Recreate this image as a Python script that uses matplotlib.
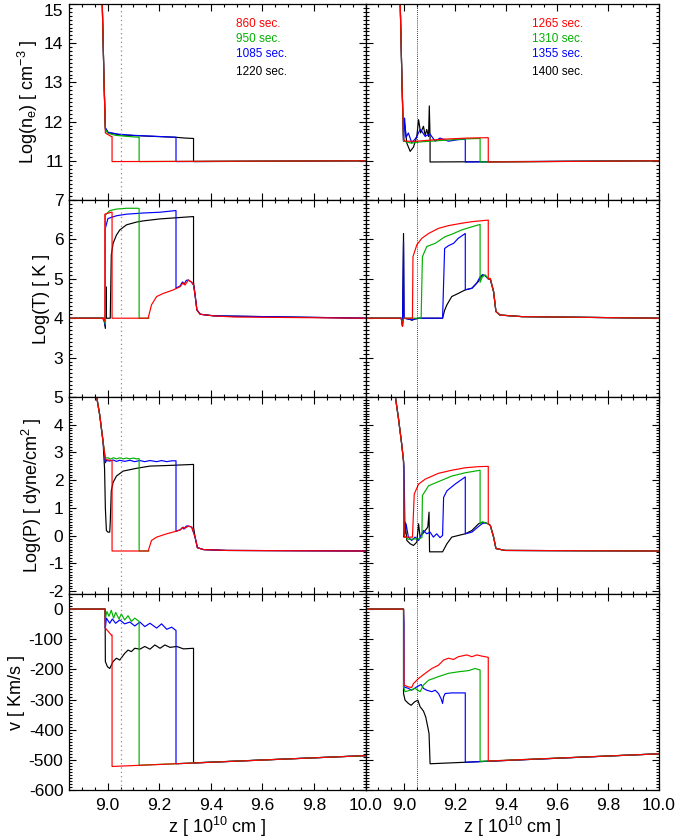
import matplotlib
matplotlib.use("Agg")
import matplotlib.pyplot as plt
from matplotlib.ticker import MultipleLocator

plt.rcParams['font.family'] = ['Liberation Sans', 'DejaVu Sans']
plt.rcParams['axes.unicode_minus'] = False

# ---- data: (z [1e10 cm], value) ----
# Log(n_e), left column
ne_860 = [(8.85, 18.0), (8.978, 15.3), (8.986, 13.0), (8.991, 11.71), (9.014, 11.62), (9.017, 11.62),
          (9.017, 10.98), (10.0, 11.0)]
ne_950 = [(8.85, 18.0), (8.978, 15.3), (8.986, 13.0), (8.991, 11.80), (9.001, 11.70), (9.030, 11.65),
          (9.080, 11.62), (9.122, 11.60), (9.122, 10.98), (10.0, 11.0)]
ne_1085 = [(8.85, 18.0), (8.978, 15.3), (8.986, 13.0), (8.991, 11.85), (9.001, 11.73), (9.040, 11.68),
           (9.100, 11.65), (9.200, 11.62), (9.265, 11.60), (9.265, 10.98), (10.0, 11.0)]
ne_1220 = [(8.85, 18.0), (8.978, 15.3), (8.986, 13.0), (8.991, 11.82), (9.001, 11.72), (9.050, 11.66),
           (9.150, 11.63), (9.265, 11.60), (9.300, 11.58), (9.333, 11.57), (9.333, 10.98), (10.0, 11.0)]
# Log(n_e), right column
ne_1265 = [(8.85, 18.0), (8.985, 15.3), (8.993, 13.0), (8.999, 11.55), (9.005, 11.50), (9.050, 11.50),
           (9.150, 11.55), (9.250, 11.58), (9.331, 11.59), (9.331, 10.97), (10.0, 11.0)]
ne_1310 = [(8.85, 18.0), (8.985, 15.3), (8.993, 13.0), (8.999, 11.50), (9.030, 11.45), (9.060, 11.48),
           (9.150, 11.52), (9.250, 11.56), (9.299, 11.57), (9.299, 10.97), (10.0, 11.0)]
ne_1355 = [(8.85, 18.0), (8.985, 15.3), (8.993, 13.0), (8.999, 11.50), (9.003, 12.09), (9.009, 11.60),
           (9.018, 11.71), (9.031, 11.46), (9.044, 11.55), (9.051, 11.62), (9.064, 11.80), (9.071, 11.75),
           (9.084, 11.62), (9.090, 11.65), (9.103, 11.68), (9.123, 11.50), (9.142, 11.58), (9.175, 11.50),
           (9.214, 11.54), (9.241, 11.55), (9.241, 10.97), (10.0, 11.0)]
ne_1400 = [(8.85, 18.0), (8.985, 15.3), (8.993, 13.0), (8.999, 11.50), (9.001, 12.05), (9.012, 11.45),
           (9.025, 11.24), (9.038, 11.35), (9.051, 11.62), (9.058, 12.05), (9.066, 11.71), (9.077, 11.88),
           (9.084, 11.65), (9.090, 11.80), (9.097, 11.62), (9.100, 12.40), (9.103, 11.60), (9.103, 10.97),
           (10.0, 11.0)]

# Log(T), left column
t_860 = [(8.85, 4.0), (8.980, 4.0), (8.986, 3.92), (8.989, 4.0), (8.989, 6.64), (9.014, 6.69), (9.017, 6.69),
         (9.017, 4.0), (9.157, 4.0), (9.170, 4.34), (9.190, 4.55), (9.216, 4.63), (9.255, 4.72), (9.281, 4.80),
         (9.294, 4.91), (9.300, 4.84), (9.313, 4.97), (9.326, 4.91), (9.333, 4.84), (9.339, 4.59),
         (9.346, 4.21), (9.359, 4.10), (9.411, 4.06), (9.489, 4.03), (10.0, 4.0)]
t_950 = [(8.85, 4.0), (8.985, 4.0), (8.991, 3.85), (8.991, 6.62), (9.008, 6.73), (9.034, 6.77), (9.073, 6.79),
         (9.118, 6.79), (9.122, 6.78), (9.122, 4.0), (9.160, 4.0)]
t_1085 = [(8.85, 4.0), (8.985, 4.0), (8.991, 3.80), (8.991, 6.28), (9.001, 6.53), (9.034, 6.60), (9.073, 6.64),
          (9.138, 6.67), (9.203, 6.69), (9.261, 6.73), (9.265, 6.73), (9.265, 4.76), (9.281, 4.82),
          (9.290, 4.92), (9.296, 4.86), (9.305, 4.96), (9.313, 4.97), (9.326, 4.91), (9.333, 4.84),
          (9.339, 4.59), (9.346, 4.21), (9.359, 4.10), (9.411, 4.06), (10.0, 4.0)]
t_1220 = [(8.85, 4.0), (8.985, 4.0), (8.991, 3.74), (8.993, 4.8), (8.995, 4.0), (9.010, 4.0), (9.014, 5.6),
          (9.021, 5.9), (9.034, 6.11), (9.047, 6.24), (9.073, 6.37), (9.112, 6.44), (9.138, 6.47),
          (9.203, 6.52), (9.268, 6.55), (9.333, 6.58), (9.333, 4.91), (9.339, 4.59), (9.346, 4.21),
          (9.359, 4.10), (9.411, 4.06), (10.0, 4.0)]
# Log(T), right column
t_1265 = [(8.85, 4.0), (8.990, 4.0), (8.995, 3.79), (8.999, 4.0), (9.034, 4.0), (9.036, 5.56), (9.051, 5.86),
          (9.071, 6.03), (9.097, 6.15), (9.136, 6.28), (9.175, 6.35), (9.227, 6.41), (9.267, 6.45),
          (9.331, 6.49), (9.331, 5.0), (9.339, 5.01), (9.352, 4.67), (9.361, 4.17), (9.377, 4.08),
          (9.463, 4.04), (10.0, 4.0)]
t_1310 = [(8.85, 4.0), (8.990, 4.0), (8.995, 3.85), (8.999, 4.0), (9.068, 4.0), (9.073, 5.56), (9.090, 5.82),
          (9.123, 5.90), (9.162, 6.07), (9.188, 6.13), (9.227, 6.24), (9.267, 6.32), (9.299, 6.38),
          (9.299, 4.91), (9.308, 5.05), (9.319, 5.10), (9.331, 5.0), (9.339, 5.01), (9.352, 4.67),
          (9.361, 4.17), (9.377, 4.08), (9.463, 4.04), (10.0, 4.0)]
t_1355 = [(8.85, 4.0), (8.990, 4.0), (8.995, 3.80), (8.999, 5.94), (9.001, 4.0), (9.025, 3.97), (9.031, 3.95),
          (9.044, 3.98), (9.060, 4.0), (9.152, 4.0), (9.160, 5.77), (9.175, 5.84), (9.195, 5.90),
          (9.214, 6.03), (9.241, 6.15), (9.241, 4.72), (9.267, 4.76), (9.286, 4.89), (9.299, 5.05),
          (9.308, 5.10), (9.319, 5.08), (9.331, 5.0), (9.339, 4.99), (9.352, 4.67), (9.361, 4.17),
          (9.377, 4.08), (9.463, 4.04), (10.0, 4.0)]
t_1400 = [(8.85, 4.0), (8.990, 4.0), (8.995, 3.80), (8.999, 6.15), (9.001, 4.0), (9.025, 3.97), (9.031, 3.95),
          (9.044, 3.98), (9.060, 4.0), (9.152, 4.0), (9.160, 4.20), (9.169, 4.34), (9.188, 4.55),
          (9.214, 4.63), (9.241, 4.72), (9.267, 4.76), (9.293, 4.94), (9.308, 5.10), (9.319, 5.08),
          (9.331, 5.0), (9.339, 4.99), (9.352, 4.67), (9.361, 4.17), (9.377, 4.08), (9.463, 4.04), (10.0, 4.0)]

# Log(P), left column
p_860 = [(8.94, 6.2), (8.956, 5.07), (8.969, 4.36), (8.982, 3.40), (8.991, 2.75), (9.014, 2.71), (9.017, 2.71),
         (9.017, -0.55), (9.157, -0.55), (9.170, -0.17), (9.190, -0.05), (9.229, 0.07), (9.261, 0.15),
         (9.281, 0.21), (9.294, 0.31), (9.300, 0.27), (9.313, 0.35), (9.326, 0.31), (9.339, -0.05),
         (9.348, -0.43), (9.372, -0.50), (9.463, -0.53), (10.0, -0.55)]
p_950 = [(8.94, 6.2), (8.956, 5.07), (8.969, 4.36), (8.982, 3.40), (8.991, 2.80), (9.001, 2.81), (9.010, 2.76),
         (9.023, 2.81), (9.034, 2.77), (9.047, 2.81), (9.060, 2.77), (9.073, 2.80), (9.086, 2.77),
         (9.099, 2.80), (9.112, 2.77), (9.122, 2.78), (9.122, -0.55), (9.160, -0.55)]
p_1085 = [(8.94, 6.2), (8.956, 5.07), (8.969, 4.36), (8.982, 3.40), (8.991, 2.63), (8.995, 2.71),
          (9.008, 2.69), (9.021, 2.73), (9.034, 2.68), (9.047, 2.72), (9.066, 2.68), (9.086, 2.72),
          (9.105, 2.67), (9.125, 2.71), (9.144, 2.67), (9.164, 2.71), (9.190, 2.67), (9.209, 2.71),
          (9.229, 2.67), (9.248, 2.70), (9.265, 2.70), (9.265, 0.16), (9.281, 0.21), (9.290, 0.30),
          (9.296, 0.24), (9.305, 0.35), (9.313, 0.35), (9.326, 0.31), (9.339, -0.05), (9.348, -0.43),
          (9.372, -0.50), (9.463, -0.53), (10.0, -0.55)]
p_1220 = [(8.94, 6.2), (8.956, 5.07), (8.969, 4.36), (8.982, 3.40), (8.988, 2.40), (8.991, 1.0),
          (8.995, 0.19), (9.001, 0.13), (9.008, 0.13), (9.010, 0.5), (9.014, 1.62), (9.021, 1.92),
          (9.034, 2.15), (9.060, 2.33), (9.112, 2.43), (9.164, 2.51), (9.229, 2.53), (9.333, 2.57),
          (9.333, 0.31), (9.339, -0.05), (9.348, -0.43), (9.372, -0.50), (9.463, -0.53), (10.0, -0.55)]
# Log(P), right column
p_1265 = [(8.95, 6.2), (8.966, 5.07), (8.979, 4.24), (8.992, 3.29), (8.999, 2.69), (9.002, -0.05),
          (9.034, -0.05), (9.041, 1.50), (9.058, 1.86), (9.084, 2.04), (9.136, 2.25), (9.188, 2.36),
          (9.241, 2.45), (9.293, 2.49), (9.331, 2.50), (9.331, 0.43), (9.339, 0.37), (9.352, -0.05),
          (9.361, -0.46), (9.397, -0.53), (10.0, -0.55)]
p_1310 = [(8.95, 6.2), (8.966, 5.07), (8.979, 4.24), (8.992, 3.29), (8.999, 2.69), (9.001, 0.0),
          (9.018, -0.13), (9.058, -0.11), (9.071, -0.07), (9.073, 1.45), (9.097, 1.80), (9.136, 1.95),
          (9.188, 2.15), (9.241, 2.27), (9.299, 2.36), (9.299, 0.43), (9.308, 0.50), (9.319, 0.47),
          (9.331, 0.43), (9.339, 0.37), (9.352, -0.05), (9.361, -0.46), (9.397, -0.53), (10.0, -0.55)]
p_1355 = [(8.95, 6.2), (8.966, 5.07), (8.979, 4.24), (8.992, 3.29), (8.999, 2.69), (9.001, 2.50),
          (9.005, 0.07), (9.009, 0.43), (9.018, -0.05), (9.031, -0.17), (9.044, -0.05), (9.058, -0.17),
          (9.077, 0.19), (9.090, 0.07), (9.103, 0.13), (9.116, -0.05), (9.129, 0.07), (9.142, -0.07),
          (9.152, 0.01), (9.156, 1.38), (9.169, 1.62), (9.201, 1.86), (9.241, 2.12), (9.241, 0.07),
          (9.267, 0.13), (9.290, 0.31), (9.306, 0.43), (9.319, 0.47), (9.331, 0.43), (9.339, 0.37),
          (9.352, -0.05), (9.361, -0.46), (9.397, -0.53), (10.0, -0.55)]
p_1400 = [(8.95, 6.2), (8.966, 5.07), (8.979, 4.24), (8.992, 3.29), (8.999, 2.69), (9.001, -0.05),
          (9.005, 0.49), (9.012, -0.17), (9.025, -0.29), (9.038, -0.35), (9.051, -0.23), (9.058, 0.43),
          (9.064, -0.05), (9.084, 0.19), (9.094, 0.31), (9.099, 0.85), (9.101, -0.58), (9.152, -0.58),
          (9.169, -0.29), (9.188, -0.05), (9.214, 0.01), (9.241, 0.07), (9.267, 0.19), (9.293, 0.43),
          (9.308, 0.49), (9.331, 0.43), (9.339, 0.37), (9.352, -0.05), (9.361, -0.46), (9.397, -0.53),
          (10.0, -0.55)]

# v [km/s], left column
v_860 = [(8.85, 0), (8.990, 0), (8.991, -63), (9.014, -86), (9.017, -86), (9.017, -522), (10.0, -486)]
v_950 = [(8.85, 0), (8.990, 0), (8.991, -30), (8.997, -8), (9.005, -24), (9.014, -4), (9.023, -30),
         (9.031, -11), (9.044, -33), (9.053, -16), (9.066, -36), (9.079, -22), (9.092, -41), (9.105, -30),
         (9.122, -41), (9.122, -518), (10.0, -486)]
v_1085 = [(8.85, 0), (8.990, 0), (8.991, -63), (8.995, -30), (9.008, -47), (9.018, -33), (9.031, -47),
          (9.047, -36), (9.066, -49), (9.086, -43), (9.105, -56), (9.125, -43), (9.144, -58), (9.164, -47),
          (9.190, -63), (9.209, -49), (9.229, -67), (9.248, -60), (9.265, -71), (9.265, -513), (10.0, -486)]
v_1220 = [(8.85, 0), (8.990, 0), (8.991, -174), (8.999, -191), (9.008, -197), (9.021, -174), (9.034, -163),
          (9.047, -169), (9.066, -147), (9.079, -136), (9.092, -141), (9.105, -130), (9.125, -133),
          (9.144, -124), (9.164, -133), (9.183, -119), (9.203, -130), (9.222, -119), (9.242, -127),
          (9.268, -124), (9.294, -132), (9.333, -130), (9.333, -510), (10.0, -486)]
# v [km/s], right column
v_1265 = [(8.85, 0), (8.999, 0), (9.001, -252), (9.018, -258), (9.031, -260), (9.038, -247), (9.058, -230),
          (9.084, -213), (9.110, -197), (9.136, -186), (9.156, -169), (9.175, -163), (9.195, -167),
          (9.214, -158), (9.247, -152), (9.267, -158), (9.286, -152), (9.306, -156), (9.331, -160),
          (9.331, -504), (10.0, -480)]
v_1310 = [(8.85, 0), (8.999, 0), (8.999, -258), (9.005, -274), (9.025, -269), (9.044, -263), (9.064, -274),
          (9.077, -252), (9.097, -236), (9.136, -224), (9.175, -213), (9.214, -208), (9.254, -204),
          (9.280, -197), (9.299, -202), (9.299, -505), (10.0, -480)]
v_1355 = [(8.85, 0), (8.999, 0), (9.001, -47), (9.001, -258), (9.018, -263), (9.031, -269), (9.051, -258),
          (9.068, -250), (9.077, -263), (9.090, -269), (9.110, -274), (9.123, -269), (9.136, -280),
          (9.146, -297), (9.152, -313), (9.156, -291), (9.162, -280), (9.188, -278), (9.241, -278),
          (9.241, -508), (10.0, -480)]
v_1400 = [(8.85, 0), (8.999, 0), (8.999, -280), (9.005, -302), (9.018, -313), (9.029, -319), (9.042, -308),
          (9.055, -302), (9.064, -324), (9.077, -338), (9.086, -358), (9.094, -391), (9.099, -413),
          (9.103, -513), (9.241, -508), (10.0, -480)]

left_times = ["860", "950", "1085", "1220"]
right_times = ["1265", "1310", "1355", "1400"]
colors = ["red", "#00b000", "blue", "black"]

rows = [
    ([ne_860, ne_950, ne_1085, ne_1220], [ne_1265, ne_1310, ne_1355, ne_1400]),
    ([t_860, t_950, t_1085, t_1220], [t_1265, t_1310, t_1355, t_1400]),
    ([p_860, p_950, p_1085, p_1220], [p_1265, p_1310, p_1355, p_1400]),
    ([v_860, v_950, v_1085, v_1220], [v_1265, v_1310, v_1355, v_1400]),
]
ylabels = [r"Log(n$_\mathregular{e}$) [ cm$^\mathregular{-3}$ ]", "Log(T) [ K ]",
           r"Log(P) [ dyne/cm$^\mathregular{2}$ ]", "v [ Km/s ]"]
ylims = [(10, 15), (2, 7), (-2.1, 5), (-600, 50)]
yticks = [[10, 11, 12, 13, 14, 15], [2, 3, 4, 5, 6, 7], [-2, -1, 0, 1, 2, 3, 4, 5],
          [-600, -500, -400, -300, -200, -100, 0]]
yminor = [0.1, 0.1, 0.1, 10]

W, H = 678, 839
fig = plt.figure(figsize=(W / 100, H / 100), dpi=100)

col_x = [69, 365.5, 659]
row_y = [4, 200, 397, 594, 790]

for r in range(4):
    for c in range(2):
        x0, x1 = col_x[c], col_x[c + 1]
        y0, y1 = row_y[r], row_y[r + 1]
        ax = fig.add_axes([x0 / W, 1 - y1 / H, (x1 - x0) / W, (y1 - y0) / H])
        curves = rows[r][c]
        for i in [3, 2, 1, 0]:
            zs = [p[0] for p in curves[i]]
            vs = [p[1] for p in curves[i]]
            ax.plot(zs, vs, color=colors[i], lw=0.85)
        ax.axvline(9.05, color="0.55" if c == 0 else "black", lw=0.9 if c == 0 else 0.6,
                   linestyle=(0, (1, 2.5)) if c == 0 else (0, (1, 1.5)))
        ax.set_xlim(8.85, 10.0)
        ax.set_ylim(*ylims[r])
        ax.xaxis.set_major_locator(MultipleLocator(0.2))
        ax.xaxis.set_minor_locator(MultipleLocator(0.05))
        ax.set_yticks(yticks[r])
        ax.yaxis.set_minor_locator(MultipleLocator(yminor[r]))
        ax.tick_params(which="both", direction="in", top=True, right=True, labelsize=12.5, width=0.8)
        ax.tick_params(which="major", length=5, pad=4)
        ax.tick_params(axis="x", which="major", pad=6)
        ax.tick_params(which="minor", length=2.5)
        for s in ax.spines.values():
            s.set_linewidth(0.9)
        if c == 0:
            labels = [str(t) for t in yticks[r]]
            if r in (0, 1):
                labels[0] = ""
            ax.set_yticklabels(labels)
            ax.set_ylabel(ylabels[r], fontsize=13, labelpad=3)
            if r == 0:
                ax.yaxis.get_major_ticks()[-1].label1.set_va("top")
        else:
            ax.set_yticklabels([])
        if r == 3:
            ax.set_xticks([9.0, 9.2, 9.4, 9.6, 9.8, 10.0])
            ax.set_xticklabels(["9.0", "9.2", "9.4", "9.6", "9.8", "10.0"])
            ax.set_xlabel(r"z [ 10$^\mathregular{10}$ cm ]", fontsize=13, labelpad=1)
        else:
            ax.set_xticklabels([])
        if r == 0:
            times = left_times if c == 0 else right_times
            tx = 0.564 if c == 0 else 0.567
            for i, (t, yy) in enumerate(zip(times, [24, 39, 54, 72])):
                ax.text(tx, (y1 - yy) / (y1 - y0), t + " sec.", color=colors[i], fontsize=8.5,
                        transform=ax.transAxes, va="center", ha="left")

fig.savefig("out.png", dpi=100)
